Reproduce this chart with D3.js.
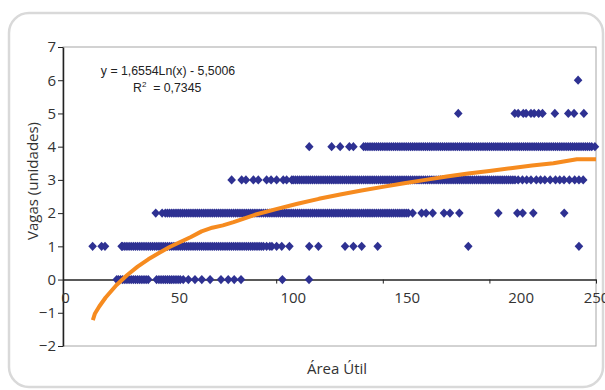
<!DOCTYPE html>
<html>
<head>
<meta charset="utf-8">
<script src="https://cdn.jsdelivr.net/npm/d3@7"></script>
<style>
  body { margin: 0; background: #fff; }
  text { font-family: "Open Sans", "Noto Sans", sans-serif; fill: #333; }
  .eq { font-family: "Liberation Sans", Arial, sans-serif; fill: #222; }
</style>
</head>
<body>
<div id="chart"></div>
<script>
// área útil (m²) of each observation, grouped by number of parking spaces
const vagas0 = [25.2, 26, 27, 28, 29, 30, 31, 32, 33, 34, 35, 36, 37, 38, 39, 40, 43.9, 45, 46, 47, 48, 49, 50, 51,
  52, 53, 54, 55, 56.4, 58.8, 61.9, 65.1, 69, 74.1, 77.5, 80.3, 83.5, 102.9, 115.4];
const vagas1 = [13.9, 18.1, 19.7, 27.5, 28, 29, 30, 31, 32, 33, 34, 35, 36, 37, 38, 39, 40, 41, 42, 43, 44, 45, 46,
  47, 48, 49, 50, 51, 52, 53, 54, 55, 56, 57, 58, 59, 60, 61, 62, 63, 64, 65, 66, 67, 68, 69, 70, 71, 72, 73, 74,
  75, 76, 77, 78, 79, 80, 81, 82, 83, 84, 85, 86, 87, 88, 89, 90, 91, 92, 93, 94, 95.5, 97, 98, 100.2, 102.6, 106.2,
  115.5, 119.8, 132.3, 136.2, 140.1, 147.6, 190.1, 242];
const vagas2 = [43.5, 46.5, 48, 49, 50, 51, 52, 53, 54, 55, 56, 57, 58, 59, 60, 61, 62, 63, 64, 65, 66, 67, 68, 69,
  70, 71, 72, 73, 74, 75, 76, 77, 78, 79, 80, 81, 82, 83, 84, 85, 86, 87, 88, 89, 90, 91, 92, 93, 94, 95, 96, 97, 98,
  99, 100, 101, 102, 103, 104, 105, 106, 107, 108, 109, 110, 111, 112, 113, 114, 115, 116, 117, 118, 119, 120, 121,
  122, 123, 124, 125, 126, 127, 128, 129, 130, 131, 132, 133, 134, 135, 136, 137, 138, 139, 140, 141, 142, 143, 144,
  145, 146, 147, 148, 149, 150, 151, 152, 153, 154, 155, 156, 157, 158, 159, 160, 161, 162, 164, 168.2, 170.3, 173.4,
  178.7, 181.5, 185.9, 204.2, 213.1, 215.6, 220.6, 235.1];
const vagas3 = [79.1, 83.8, 85.8, 89.3, 91.6, 95.5, 97.6, 100.2, 103.3, 104.9, 107.3, 108, 109, 110, 111, 112, 113,
  114, 115, 116, 117, 118, 119, 120, 121, 122, 123, 124, 125, 126, 127, 128, 129, 130, 131, 132, 133, 134, 135, 136,
  137, 138, 139, 140, 141, 142, 143, 144, 145, 146, 147, 148, 149, 150, 151, 152, 153, 154, 155, 156, 157, 158, 159,
  160, 161, 162, 163, 164, 165, 166, 167, 168, 169, 170, 171, 172, 173, 174, 175, 176, 177, 178, 179, 180, 181, 182,
  183, 184, 185, 186, 187, 188, 189, 190, 191, 192, 193, 194, 195, 196, 197, 198, 199, 200, 201, 202, 203, 204, 205,
  206, 207, 208, 209, 210, 211, 212, 213.5, 215.5, 217.5, 219.5, 222, 224, 226, 228.5, 231, 233, 235, 237.5, 240,
  242, 244];
const vagas4 = [115.5, 126, 130, 134.3, 136.2, 141, 142, 143, 144, 145, 146, 147, 148, 149, 150, 151, 152, 153, 154,
  155, 156, 157, 158, 159, 160, 161, 162, 163, 164, 165, 166, 167, 168, 169, 170, 171, 172, 173, 174, 175, 176, 177,
  178, 179, 180, 181, 182, 183, 184, 185, 186, 187, 188, 189, 190, 191, 192, 193, 194, 195, 196, 197, 198, 199, 200,
  201, 202, 203, 204, 205, 206, 207, 208, 209, 210, 211, 212, 213, 214, 215, 216, 217, 218, 219, 220, 221, 222, 223,
  224, 225, 226, 227, 228, 229, 230, 231, 232, 233, 234, 235, 236, 237, 238, 239, 240, 241, 242, 243, 244, 245, 246,
  247, 248, 249.5];
const vagas5 = [185.4, 211.9, 213.5, 215.9, 217.2, 219.5, 221, 223.1, 224.9, 230.7, 237, 239.7, 244.3];
const vagas6 = [241.6];

// logarithmic trend line as drawn on the chart
const trendX = [14, 15, 17, 20, 25, 30, 35, 40, 45, 50, 55, 60, 65, 70, 75, 80, 90, 100, 110, 120, 130, 140, 150,
  160, 170, 180, 190, 200, 210, 220, 230, 241, 250];
const trendY = [-1.22, -1.02, -0.81, -0.54, -0.17, 0.13, 0.39, 0.61, 0.80, 0.98, 1.13, 1.28, 1.45, 1.56, 1.63, 1.73,
  1.95, 2.12, 2.28, 2.43, 2.56, 2.68, 2.79, 2.90, 3.00, 3.10, 3.19, 3.27, 3.35, 3.43, 3.50, 3.62, 3.62];

const xTicks = [0, 50, 100, 150, 200, 250];
const yTicks = [-2, -1, 0, 1, 2, 3, 4, 5, 6, 7];

const equation = 'y = 1,6554Ln(x) - 5,5006';
const r2 = '0,7345';

const W = 605, H = 390;
const margin = {top: 47, right: 9, bottom: 44, left: 63};
const width = W - margin.left - margin.right,
      height = H - margin.top - margin.bottom;

const svg = d3.select('#chart').append('svg')
    .attr('width', W)
    .attr('height', H);

// rounded outer frame
svg.append('rect')
    .attr('x', 9).attr('y', 13)
    .attr('width', 594).attr('height', 374)
    .attr('rx', 20)
    .attr('fill', 'none')
    .attr('stroke', '#d9d9d9')
    .attr('stroke-width', 2.5);

const g = svg.append('g')
    .attr('transform', `translate(${margin.left},${margin.top})`);

const x = d3.scaleLinear().domain([0, 250]).range([0, width]);
const y = d3.scaleLinear().domain([-2, 7]).range([height, 0]);

// plot area border
g.append('rect')
    .attr('width', width).attr('height', height)
    .attr('fill', 'none')
    .attr('stroke', '#a6a6a6')
    .attr('stroke-width', 1);

// y axis
const yAxis = g.append('g')
    .call(d3.axisLeft(y).tickValues(yTicks).tickSize(5).tickSizeOuter(0).tickPadding(2));
yAxis.select('.domain').attr('stroke', '#222').attr('stroke-width', 1.5);
yAxis.selectAll('.tick line').attr('stroke', '#222');
yAxis.selectAll('text').style('font-size', '15px').attr('fill', '#333');

// x axis crossing at zero
const xAxis = g.append('g')
    .attr('transform', `translate(0,${y(0)})`)
    .call(d3.axisBottom(x).tickValues(xTicks).tickSize(4).tickSizeOuter(0).tickPadding(9));
xAxis.select('.domain').attr('stroke', '#222').attr('stroke-width', 1.5);
xAxis.selectAll('.tick line').attr('stroke', '#222');
// labels sit a little right of their ticks in the original (Excel spacing)
xAxis.selectAll('text')
    .style('font-size', '15px')
    .attr('fill', '#333')
    .attr('dx', d => d < 250 ? 2 + d * 0.146 : 0);

// scatter points
const levels = [vagas0, vagas1, vagas2, vagas3, vagas4, vagas5, vagas6];
const points = levels.flatMap((xs, v) => xs.map(a => ({area: a, vagas: v})));

const diamond = 'M0,-4.6L4.3,0L0,4.6L-4.3,0Z';
g.append('g').selectAll('path')
    .data(points)
    .enter()
    .append('path')
    .attr('d', diamond)
    .attr('transform', d => `translate(${x(d.area)},${y(d.vagas)})`)
    .attr('fill', '#2e3192');

// trend line
const line = d3.line()
    .x(d => x(d[0]))
    .y(d => y(d[1]));

g.append('path')
    .datum(trendX.map((a, i) => [a, trendY[i]]))
    .attr('d', line)
    .attr('fill', 'none')
    .attr('stroke', '#f68b1f')
    .attr('stroke-width', 4)
    .attr('stroke-linejoin', 'round');

// equation
const eq = svg.append('text')
    .attr('class', 'eq')
    .attr('text-anchor', 'middle')
    .style('font-size', '12.3px');
eq.append('tspan').attr('x', 168).attr('y', 75).text(equation);
const r2line = svg.append('text')
    .attr('class', 'eq')
    .attr('x', 133).attr('y', 92)
    .style('font-size', '12.3px');
r2line.append('tspan').text('R');
r2line.append('tspan').attr('dy', -5).style('font-size', '8px').text('2');
r2line.append('tspan').attr('dy', 5).text('\u00a0 = ' + r2);

// axis titles
svg.append('text')
    .attr('transform', 'translate(38,181) rotate(-90)')
    .attr('text-anchor', 'middle')
    .style('font-size', '15px')
    .text('Vagas (unidades)');

svg.append('text')
    .attr('x', 337).attr('y', 374)
    .attr('text-anchor', 'middle')
    .style('font-size', '15px')
    .text('Área Útil');
</script>
</body>
</html>
